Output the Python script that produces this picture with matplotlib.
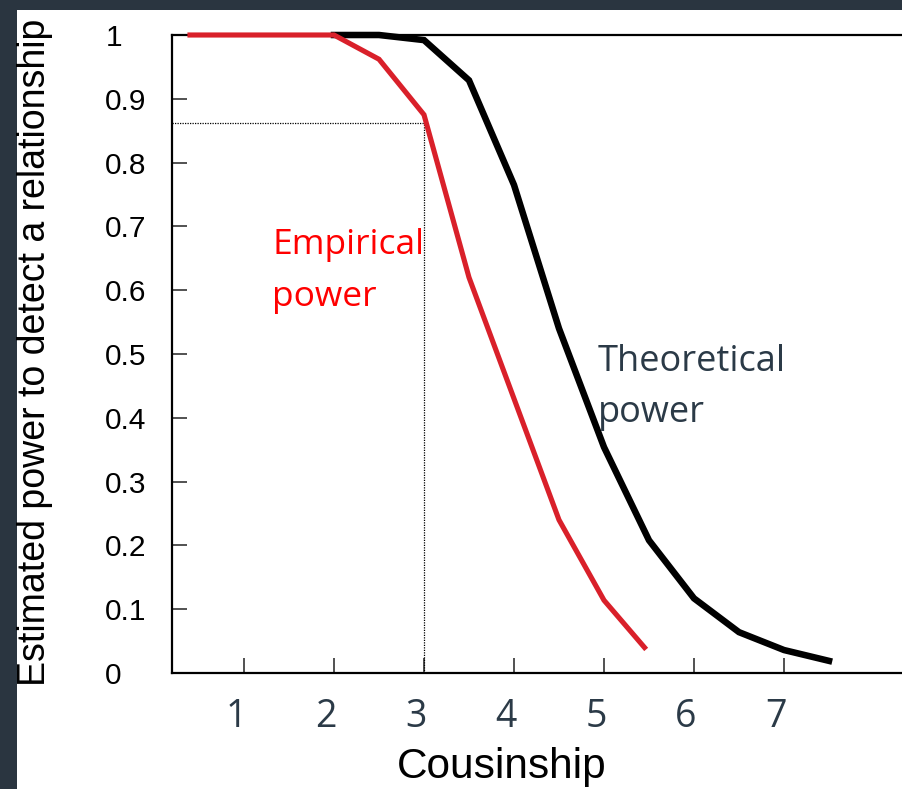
import matplotlib
matplotlib.use("Agg")
import matplotlib.pyplot as plt
import matplotlib.transforms as mtransforms
from matplotlib.patches import Rectangle

# ---- data ----
emp_x = [0.4, 1.0, 1.5, 2.0, 2.5, 3.0, 3.5, 4.0, 4.5, 5.0, 5.45]
emp_y = [1.0, 1.0, 1.0, 1.0, 0.962, 0.875, 0.62, 0.43, 0.24, 0.114, 0.04]
theo_x = [2.0, 2.5, 3.0, 3.5, 4.0, 4.5, 5.0, 5.5, 6.0, 6.5, 7.0, 7.5]
theo_y = [1.0, 1.0, 0.992, 0.929, 0.765, 0.54, 0.354, 0.208, 0.117, 0.064, 0.036, 0.019]
threshold_x = 3.0
threshold_y = 0.862
x_ticks = [1, 2, 3, 4, 5, 6, 7]
x_tick_labels = ["1", "2", "3", "4", "5", "6", "7"]
y_ticks = [0, 0.1, 0.2, 0.3, 0.4, 0.5, 0.6, 0.7, 0.8, 0.9, 1.0]
y_tick_labels = ["0", "0.1", "0.2", "0.3", "0.4", "0.5", "0.6", "0.7", "0.8", "0.9", "1"]

W, H, DPI = 902, 789, 100
DARK = "#2a3540"
SLATE = "#2b3a47"

fig = plt.figure(figsize=(W / DPI, H / DPI), dpi=DPI, facecolor=DARK)
bg = Rectangle((17 / W, 0), 1, (H - 10) / H, transform=fig.transFigure,
               facecolor="white", edgecolor="none", zorder=-10)
fig.patches.append(bg)

x0, x1 = 0.2, 9.0
ax_left = 172 / W
ax_bottom = (H - 673) / H
ax_h = 638 / H
ax_w = (x1 - x0) * 90 / W
ax = fig.add_axes([ax_left, ax_bottom, ax_w, ax_h])
ax.set_zorder(1)
ax.set_facecolor("none")
ax.set_xlim(x0, x1)
ax.set_ylim(0, 1)

for s in ["left", "bottom", "top"]:
    ax.spines[s].set_linewidth(1.6)
    ax.spines[s].set_color("black")
ax.spines["right"].set_visible(False)

# threshold dotted lines
ax.plot([x0, threshold_x], [threshold_y, threshold_y], color="black", lw=0.9,
        linestyle=(0, (1, 1)), zorder=2)
ax.plot([threshold_x, threshold_x], [0, threshold_y], color="black", lw=0.9,
        linestyle=(0, (1, 1)), zorder=2)

ax.plot(theo_x, theo_y, color="black", lw=4.7, solid_joinstyle="miter", clip_on=False, zorder=3)
ax.plot(emp_x, emp_y, color="#d9202a", lw=3.7, solid_joinstyle="miter", clip_on=False, zorder=4)

ax.set_xticks(x_ticks)
ax.set_xticklabels(x_tick_labels, fontfamily="Open Sans", fontsize=27, color=SLATE)
ax.set_yticks(y_ticks)
ax.set_yticklabels(y_tick_labels, fontfamily="Liberation Sans", fontsize=21.5, color="black")
ax.tick_params(axis="x", direction="in", length=11, width=1.2, color="#333333", pad=18)
ax.tick_params(axis="y", direction="in", length=11, width=1.2, color="#333333", pad=48)
for lab in ax.get_yticklabels():
    lab.set_horizontalalignment("left")
offset = mtransforms.ScaledTranslation(-8 / DPI, 0, fig.dpi_scale_trans)
for lab in ax.get_xticklabels():
    lab.set_transform(lab.get_transform() + offset)

def fpos(px, py):
    return px / W, 1 - py / H

fig.text(*fpos(502, 747), "Cousinship", fontfamily="Liberation Sans", fontsize=30.5,
         color="black", ha="center", va="top")
fig.text(*fpos(35, 352), "Estimated power to detect a relationship",
         fontfamily="Liberation Sans", fontsize=27, color="black",
         rotation=90, ha="center", va="center")
# multi-line baseline alignment anchors the last line
fig.text(*fpos(272, 306), "Empirical\npower", fontfamily="Open Sans", fontsize=25.5,
         color="#ff0000", ha="left", va="baseline", linespacing=1.68)
fig.text(*fpos(598, 422), "Theoretical\npower", fontfamily="Open Sans", fontsize=26,
         color=SLATE, ha="left", va="baseline", linespacing=1.57)

fig.savefig("out.png", dpi=DPI, facecolor=DARK)
